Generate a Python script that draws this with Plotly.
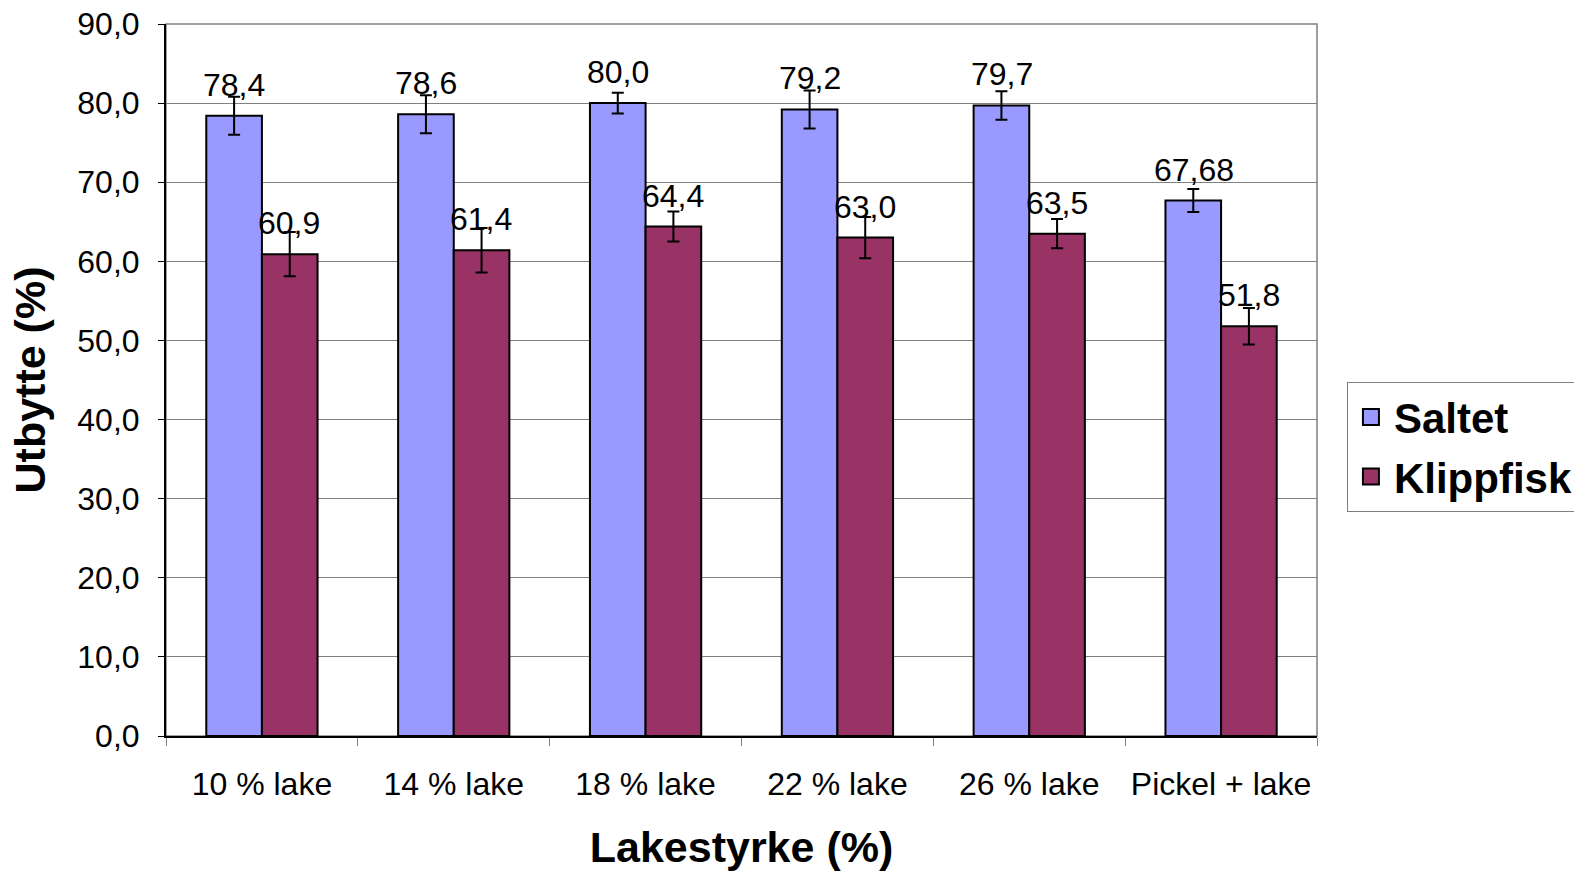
import plotly.graph_objects as go

categories = ["10 % lake", "14 % lake", "18 % lake", "22 % lake", "26 % lake", "Pickel + lake"]
saltet = [78.4, 78.6, 80.0, 79.2, 79.7, 67.68]
klippfisk = [60.9, 61.4, 64.4, 63.0, 63.5, 51.8]
saltet_err = [2.4, 2.4, 1.3, 2.4, 1.8, 1.45]
klippfisk_err = [2.8, 2.8, 1.9, 2.6, 1.85, 2.3]
saltet_labels = ["78,4", "78,6", "80,0", "79,2", "79,7", "67,68"]
klippfisk_labels = ["60,9", "61,4", "64,4", "63,0", "63,5", "51,8"]

FONT = "Liberation Sans, Arial, sans-serif"
C_SALTET = "#9999FF"
C_KLIPP = "#993366"

fig = go.Figure()
fig.add_trace(go.Bar(
    name="Saltet", x=categories, y=saltet, showlegend=False, legendgroup="s",
    marker=dict(color=C_SALTET, line=dict(color="black", width=2)),
    error_y=dict(type="data", array=saltet_err, color="black", thickness=2, width=6),
))
fig.add_trace(go.Bar(
    name="Klippfisk", x=categories, y=klippfisk, showlegend=False, legendgroup="k",
    marker=dict(color=C_KLIPP, line=dict(color="black", width=2)),
    error_y=dict(type="data", array=klippfisk_err, color="black", thickness=2, width=6),
))
# legend swatches (larger squares like the original)
fig.add_trace(go.Scatter(name="Saltet", x=[None], y=[None], mode="markers", legendgroup="s",
                         marker=dict(symbol="square", size=20, color=C_SALTET,
                                     line=dict(color="black", width=2))))
fig.add_trace(go.Scatter(name="Klippfisk", x=[None], y=[None], mode="markers", legendgroup="k",
                         marker=dict(symbol="square", size=20, color=C_KLIPP,
                                     line=dict(color="black", width=2))))

annotations = []
for c, v, t in zip(categories, saltet, saltet_labels):
    annotations.append(dict(x=c, y=v, text=t, xref="x", yref="y", showarrow=False,
                            xshift=-27.5, yshift=31, yanchor="middle",
                            font=dict(size=32, color="black", family=FONT)))
for c, v, t in zip(categories, klippfisk, klippfisk_labels):
    annotations.append(dict(x=c, y=v, text=t, xref="x", yref="y", showarrow=False,
                            xshift=27.5, yshift=31, yanchor="middle",
                            font=dict(size=32, color="black", family=FONT)))

fig.update_layout(
    width=1574, height=871,
    margin=dict(l=166, r=257, t=24, b=135, autoexpand=False),
    paper_bgcolor="white", plot_bgcolor="white",
    font=dict(family=FONT, color="black", size=32),
    barmode="group", bargap=0.42, bargroupgap=0,
    annotations=annotations,
    separators=", ",
    legend=dict(x=1.026, y=0.497, xanchor="left", yanchor="top",
                font=dict(size=42, family=FONT, color="black", weight="bold"),
                bgcolor="white", bordercolor="#808080", borderwidth=1,
                tracegroupgap=2, itemsizing="trace", itemwidth=36),
    shapes=[dict(type="rect", xref="paper", yref="paper", x0=0, x1=1, y0=0, y1=1,
                 line=dict(color="#808080", width=1.5), layer="below")],
)
fig.update_yaxes(
    range=[0, 90], dtick=10, tickformat=".1f", automargin=False,
    ticklabeloverflow="allow",
    showgrid=True, gridcolor="#808080", gridwidth=1,
    showline=True, linecolor="black", linewidth=2,
    ticks="outside", ticklen=6, tickcolor="black", tickwidth=1,
    ticklabelstandoff=12,
    tickfont=dict(size=32, family=FONT),
    title=dict(text="Utbytte (%)", font=dict(size=43, family=FONT, weight="bold"), standoff=18),
    zeroline=False,
)
fig.update_xaxes(
    automargin=False, ticklabeloverflow="allow",
    showline=True, linecolor="black", linewidth=2,
    ticks="outside", ticklen=8, tickcolor="#808080", tickson="boundaries",
    ticklabelstandoff=19,
    tickfont=dict(size=32, family=FONT),
    title=dict(text="Lakestyrke (%)", font=dict(size=43, family=FONT, weight="bold"), standoff=37),
)

fig.write_html("out.html", config={"displayModeBar": False},
               post_script="document.body.style.margin='0';")
